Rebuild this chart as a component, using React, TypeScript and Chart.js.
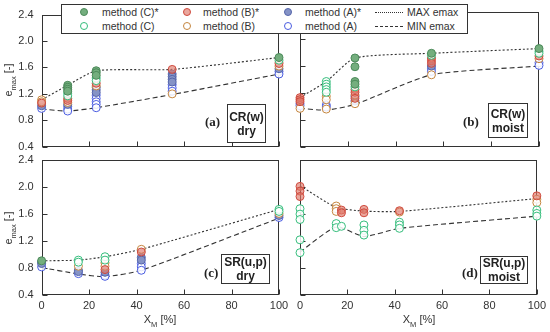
import React, { useEffect, useRef } from "react";
import { Chart, registerables } from "chart.js";

Chart.register(...registerables);

type P = [number, number];

// ---------- Panel (a): CR(w) dry ----------
const A_Cs: P[] = [[11, 1.33], [11, 1.30], [11, 1.27], [11, 1.24], [23, 1.55], [23, 1.52], [23, 1.48], [100, 1.75]];
const A_C: P[] = [[11, 1.21], [11, 1.17], [23, 1.44], [23, 1.40], [100, 1.71]];
const A_Bs: P[] = [[0, 1.06], [11, 1.13], [11, 1.10], [23, 1.36], [55, 1.57], [100, 1.66]];
const A_B: P[] = [[0, 1.11], [0, 1.08], [11, 1.07], [23, 1.32], [55, 1.20], [100, 1.62]];
const A_As: P[] = [[0, 1.02], [11, 1.04], [23, 1.30], [23, 1.26], [23, 1.22], [55, 1.50], [55, 1.46], [55, 1.42], [55, 1.38], [100, 1.58]];
const A_A: P[] = [[0, 0.98], [11, 1.01], [11, 0.97], [11, 0.94], [23, 1.18], [23, 1.13], [23, 1.08], [23, 1.04], [23, 0.99], [55, 1.34], [55, 1.29], [55, 1.24], [100, 1.54], [100, 1.50]];
const A_MAX: P[] = [[0, 1.11], [11, 1.33], [23, 1.55], [55, 1.57], [100, 1.75]];
const A_MIN: P[] = [[0, 0.97], [11, 0.94], [23, 0.99], [55, 1.19], [100, 1.50]];

// ---------- Panel (b): CR(w) moist ----------
const B_Cs: P[] = [[23, 1.72], [23, 1.59], [23, 1.37], [23, 1.33], [55, 1.79], [100, 1.86]];
const B_C: P[] = [[11, 1.37], [11, 1.33], [11, 1.29], [11, 1.25], [11, 1.21], [23, 1.29], [55, 1.76], [100, 1.82], [100, 1.79]];
const B_Bs: P[] = [[0, 1.13], [0, 1.10], [0, 1.07], [23, 1.25], [23, 1.21], [23, 1.12], [55, 1.72], [55, 1.68], [55, 1.64], [100, 1.75]];
const B_B: P[] = [[0, 0.97], [11, 1.15], [11, 1.10], [11, 0.96], [23, 1.17], [23, 1.04], [55, 1.47], [100, 1.71]];
const B_As: P[] = [[23, 1.08], [55, 1.60]];
const B_A: P[] = [[0, 1.04], [0, 1.01], [11, 1.02], [11, 0.99], [23, 1.15], [55, 1.56], [55, 1.52], [100, 1.65], [100, 1.61]];
const B_MAX: P[] = [[0, 1.13], [11, 1.37], [23, 1.72], [55, 1.79], [100, 1.86]];
const B_MIN: P[] = [[0, 0.97], [11, 0.945], [23, 1.03], [55, 1.47], [100, 1.60]];

// ---------- Panel (c): SR(u,p) dry ----------
const C_Cs: P[] = [[0, 0.91]];
const C_C: P[] = [[15.5, 0.92], [15.5, 0.89], [26.7, 0.97], [26.7, 0.92], [100, 1.67], [100, 1.64]];
const C_Bs: P[] = [[26.7, 0.78], [42, 1.04]];
const C_B: P[] = [[15.5, 0.83], [26.7, 0.88], [26.7, 0.83], [42, 1.08], [100, 1.61]];
const C_As: P[] = [[0, 0.89], [0, 0.87], [15.5, 0.77], [15.5, 0.75], [26.7, 0.74], [42, 0.96], [42, 0.92], [100, 1.58]];
const C_A: P[] = [[0, 0.82], [15.5, 0.72], [26.7, 0.70], [26.7, 0.68], [42, 0.87], [42, 0.82], [42, 0.77], [100, 1.55]];
const C_MAX: P[] = [[0, 0.91], [15.5, 0.92], [26.7, 0.97], [42, 1.08], [100, 1.67]];
const C_MIN: P[] = [[0, 0.81], [15.5, 0.715], [26.7, 0.675], [42, 0.77], [100, 1.54]];

// ---------- Panel (d): SR(u,p) moist ----------
const D_Cs: P[] = [];
const D_C: P[] = [[0, 1.68], [0, 1.60], [0, 1.52], [0, 1.22], [0, 1.03], [15.3, 1.46], [15.3, 1.40], [17.5, 1.42], [27, 1.44], [27, 1.36], [27, 1.29], [42, 1.48], [42, 1.44], [42, 1.39], [100, 1.66], [100, 1.61], [100, 1.57]];
const D_Bs: P[] = [[0, 2.01], [0, 1.94], [0, 1.86], [17.5, 1.66], [17.5, 1.62], [27, 1.67], [27, 1.62], [42, 1.65], [100, 1.87]];
const D_B: P[] = [[15.3, 1.72], [15.3, 1.68], [15.3, 1.64], [42, 1.63], [100, 1.82], [100, 1.77]];
const D_As: P[] = [];
const D_A: P[] = [];
const D_MAX: P[] = [[0, 2.02], [15.3, 1.70], [27, 1.645], [42, 1.64], [100, 1.83]];
const D_MIN: P[] = [[0, 1.04], [15.3, 1.41], [27, 1.27], [42, 1.39], [100, 1.57]];

const X_MIN = 0, X_MAX = 100, X_STEP = 20;
const Y_MIN = 0.4, Y_MAX = 2.4, Y_STEP = 0.4;

const LEGEND_NAMES = {
  Cs: "method (C)*", C: "method (C)", Bs: "method (B)*", B: "method (B)", As: "method (A)*", A: "method (A)",
  max: "MAX emax", min: "MIN emax",
};

// ---------- styling ----------
const W = 550, H = 332;
const Y_AXIS_W = 41.6;
const X_AXIS_H = 22;
const FONT = "'Liberation Sans', Arial, sans-serif";
const TXT = "#333";

const STYLE: Record<string, { bg: string; border: string }> = {
  Cs: { bg: "#74ae7e", border: "#4c8a5a" },
  C: { bg: "rgba(255,255,255,0.85)", border: "#35bd7c" },
  Bs: { bg: "rgba(222,120,104,0.65)", border: "#cf4a3e" },
  B: { bg: "rgba(255,255,255,0.85)", border: "#c4853e" },
  As: { bg: "#8593c6", border: "#5565aa" },
  A: { bg: "rgba(255,255,255,0.85)", border: "#4a5ce0" },
};

type PanelCfg = {
  key: string; left: number; right: number; top: number; bottom: number;
  yLabels: boolean; xLabels: boolean;
  series: Record<string, P[]>;
};

const PANELS: PanelCfg[] = [
  { key: "a", left: Y_AXIS_W, right: 279, top: 12.3, bottom: 146.7, yLabels: true, xLabels: false,
    series: { Cs: A_Cs, C: A_C, Bs: A_Bs, B: A_B, As: A_As, A: A_A, max: A_MAX, min: A_MIN } },
  { key: "b", left: 300, right: 539, top: 12.3, bottom: 146.7, yLabels: false, xLabels: false,
    series: { Cs: B_Cs, C: B_C, Bs: B_Bs, B: B_B, As: B_As, A: B_A, max: B_MAX, min: B_MIN } },
  { key: "c", left: Y_AXIS_W, right: 279, top: 160, bottom: 295.3, yLabels: true, xLabels: true,
    series: { Cs: C_Cs, C: C_C, Bs: C_Bs, B: C_B, As: C_As, A: C_A, max: C_MAX, min: C_MIN } },
  { key: "d", left: 300, right: 539, top: 160, bottom: 295.3, yLabels: false, xLabels: true,
    series: { Cs: D_Cs, C: D_C, Bs: D_Bs, B: D_B, As: D_As, A: D_A, max: D_MAX, min: D_MIN } },
];

const framePlugin = {
  id: "frame",
  beforeDatasetsDraw(chart: any) {
    const { ctx, chartArea: a, scales } = chart;
    const xs = scales.x, ys = scales.y;
    const L = Math.round(a.left) + 0.5, R = Math.round(a.right) - 0.5;
    const T = Math.round(a.top) + 0.5, B = Math.round(a.bottom) - 0.5;
    ctx.save();
    ctx.strokeStyle = "#333";
    ctx.lineWidth = 1;
    ctx.strokeRect(L, T, R - L, B - T);
    ctx.beginPath();
    xs.ticks.forEach((t: any) => {
      const px = Math.round(xs.getPixelForValue(t.value)) + 0.5;
      ctx.moveTo(px, B);
      ctx.lineTo(px, B - 5);
    });
    ys.ticks.forEach((t: any) => {
      const py = Math.round(ys.getPixelForValue(t.value)) + 0.5;
      ctx.moveTo(L, py);
      ctx.lineTo(L + 5, py);
    });
    ctx.stroke();
    ctx.restore();
  },
};

function PanelChart({ cfg }: { cfg: PanelCfg }) {
  const ref = useRef<HTMLCanvasElement>(null);
  useEffect(() => {
    const toPts = (arr: P[]) => arr.map(([x, y]) => ({ x, y }));
    const pointSets = ["Cs", "C", "Bs", "B", "As", "A"].map((k) => ({
      label: (LEGEND_NAMES as any)[k],
      data: toPts(cfg.series[k]),
      pointRadius: 4,
      pointBorderWidth: 1,
      backgroundColor: STYLE[k].bg,
      borderColor: STYLE[k].border,
      showLine: false,
      clip: false as any,
    }));
    const lineSets = [
      { key: "max", dash: [2, 2] },
      { key: "min", dash: [5, 3] },
    ].map((l) => ({
      label: (LEGEND_NAMES as any)[l.key],
      data: toPts(cfg.series[l.key]),
      showLine: true,
      pointRadius: 0,
      borderColor: "#333",
      borderWidth: 1.1,
      borderDash: l.dash,
      tension: 0.2,
      clip: false as any,
    }));
    const chart = new Chart(ref.current!, {
      type: "scatter",
      data: { datasets: [...pointSets, ...lineSets] as any },
      options: {
        responsive: false,
        animation: false,
        devicePixelRatio: 1,
        events: [],
        layout: {
          padding: {
            left: cfg.left - Y_AXIS_W,
            right: W - cfg.right,
            top: cfg.top,
            bottom: H - cfg.bottom - X_AXIS_H,
          },
        },
        plugins: { legend: { display: false }, tooltip: { enabled: false } },
        scales: {
          x: {
            type: "linear",
            min: X_MIN,
            max: X_MAX,
            ticks: { stepSize: X_STEP, display: cfg.xLabels, padding: 4, maxRotation: 0, color: TXT, font: { family: FONT, size: 11 } },
            grid: { display: false, drawTicks: false },
            border: { display: false },
            afterFit: (s: any) => { s.height = X_AXIS_H; },
          },
          y: {
            type: "linear",
            min: Y_MIN,
            max: Y_MAX,
            ticks: {
              stepSize: Y_STEP,
              display: cfg.yLabels,
              padding: 8,
              color: TXT,
              font: { family: FONT, size: 11 },
              callback: (v: any) => Number(v).toFixed(1),
            },
            grid: { display: false, drawTicks: false },
            border: { display: false },
            afterFit: (s: any) => { s.width = Y_AXIS_W; },
          },
        },
      } as any,
      plugins: [framePlugin],
    });
    return () => chart.destroy();
  }, [cfg]);
  return (
    <canvas
      ref={ref}
      width={W}
      height={H}
      style={{ position: "absolute", left: 0, top: 0, width: W, height: H }}
    />
  );
}

const abs = (o: React.CSSProperties): React.CSSProperties => ({ position: "absolute", ...o });

function Marker({ k, cx, cy }: { k: string; cx: number; cy: number }) {
  return (
    <div
      style={abs({
        left: cx - 4, top: cy - 4, width: 8, height: 8, boxSizing: "border-box",
        borderRadius: "50%", border: `1px solid ${STYLE[k].border}`, background: STYLE[k].bg,
      })}
    />
  );
}

function LegendText({ x, cy, text }: { x: number; cy: number; text: string }) {
  return (
    <div style={abs({ left: x, top: cy - 7, height: 14, lineHeight: "14px", fontSize: 10.5, fontFamily: FONT, color: TXT, whiteSpace: "nowrap" })}>
      {text}
    </div>
  );
}

function TagBox({ left, top, width, height, lines }: { left: number; top: number; width: number; height: number; lines: string[] }) {
  return (
    <div
      style={abs({
        left, top, width, height, boxSizing: "border-box", border: "1px solid #333", background: "#fff",
        display: "flex", flexDirection: "column", justifyContent: "center", alignItems: "center",
        fontFamily: FONT, fontWeight: "bold", fontSize: 12, lineHeight: "14px", color: "#222", whiteSpace: "nowrap",
      })}
    >
      {lines.map((l) => (<div key={l}>{l}</div>))}
    </div>
  );
}

function PanelLetter({ x, cy, text }: { x: number; cy: number; text: string }) {
  return (
    <div style={abs({ left: x, top: cy - 8, lineHeight: "16px", fontSize: 13, fontWeight: "bold", fontFamily: "'Liberation Serif', 'Times New Roman', serif", color: "#222" })}>
      {text}
    </div>
  );
}

function YTitle({ cy }: { cy: number }) {
  return (
    <div
      style={abs({
        left: 10, top: cy, transform: "translate(-50%, -50%) rotate(-90deg)", whiteSpace: "nowrap",
        fontFamily: FONT, fontSize: 11, color: TXT,
      })}
    >
      e<sub style={{ fontSize: 7.5 }}>max</sub> [-]
    </div>
  );
}

function XTitle({ cx }: { cx: number }) {
  return (
    <div
      style={abs({
        left: cx, top: 321, transform: "translate(-50%, -50%)", whiteSpace: "nowrap",
        fontFamily: FONT, fontSize: 11, color: TXT,
      })}
    >
      X<sub style={{ fontSize: 7.5 }}>M</sub> [%]
    </div>
  );
}

export default function App() {
  return (
    <div style={{ position: "relative", width: W, height: H, background: "#fff", overflow: "hidden" }}>
      <style>{"body{margin:0}"}</style>
      {PANELS.map((p) => (<PanelChart key={p.key} cfg={p} />))}

      <YTitle cy={80} />
      <YTitle cy={228} />
      <XTitle cx={160} />
      <XTitle cx={419} />

      <PanelLetter x={205} cy={122} text="(a)" />
      <TagBox left={227} top={104} width={39} height={39} lines={["CR(w)", "dry"]} />
      <PanelLetter x={463} cy={122} text="(b)" />
      <TagBox left={488} top={103} width={40} height={35} lines={["CR(w)", "moist"]} />
      <PanelLetter x={204} cy={273} text="(c)" />
      <TagBox left={221} top={254} width={49} height={30} lines={["SR(u,p)", "dry"]} />
      <PanelLetter x={462} cy={273} text="(d)" />
      <TagBox left={480} top={256} width={48} height={28} lines={["SR(u,p)", "moist"]} />

      <div style={abs({ left: 61, top: 4, width: 407, height: 30, boxSizing: "border-box", border: "1px solid #333", background: "#fff" })} />
      <Marker k="Cs" cx={84} cy={12} />
      <LegendText x={102} cy={12} text={LEGEND_NAMES.Cs} />
      <Marker k="C" cx={84} cy={26} />
      <LegendText x={102} cy={26} text={LEGEND_NAMES.C} />
      <Marker k="Bs" cx={187} cy={12} />
      <LegendText x={203} cy={12} text={LEGEND_NAMES.Bs} />
      <Marker k="B" cx={187} cy={26} />
      <LegendText x={203} cy={26} text={LEGEND_NAMES.B} />
      <Marker k="As" cx={288} cy={12} />
      <LegendText x={305} cy={12} text={LEGEND_NAMES.As} />
      <Marker k="A" cx={288} cy={26} />
      <LegendText x={305} cy={26} text={LEGEND_NAMES.A} />
      <div style={abs({ left: 375, top: 12, width: 28, height: 0, borderTop: "1px dotted #333" })} />
      <LegendText x={407} cy={12} text={LEGEND_NAMES.max} />
      <div style={abs({ left: 375, top: 26, width: 28, height: 0, borderTop: "1px dashed #333" })} />
      <LegendText x={407} cy={26} text={LEGEND_NAMES.min} />
    </div>
  );
}
